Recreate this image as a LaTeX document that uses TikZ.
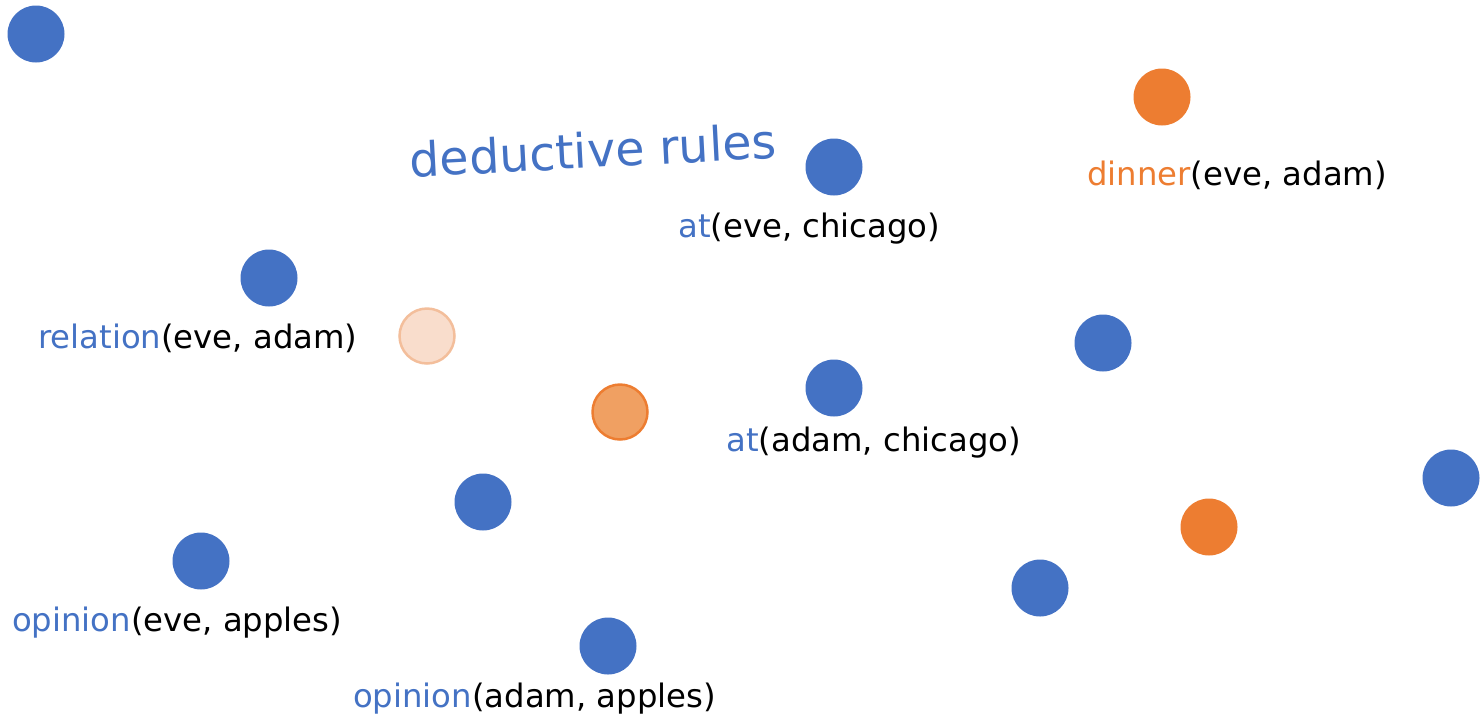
\documentclass[tikz,border=0pt]{standalone}
\usepackage{fontspec}
\setmainfont{DejaVu Sans}
\definecolor{pblue}{HTML}{4472C4}
\definecolor{porange}{HTML}{ED7D31}
\definecolor{pfade}{HTML}{F9DDCC}
\definecolor{pfadeedge}{HTML}{F3BE9B}
\definecolor{pmid}{HTML}{F0A062}
\tikzset{
  dot/.style={circle, minimum size=57pt, inner sep=0pt},
  bdot/.style={dot, fill=pblue},
  odot/.style={dot, fill=porange},
  fadedot/.style={dot, fill=pfade, draw=pfadeedge, line width=2.5pt, minimum size=55pt},
  middot/.style={dot, fill=pmid, draw=porange, line width=2.5pt, minimum size=55pt},
  fact/.style={anchor=west, inner sep=0pt, font=\fontsize{32.3}{38}\selectfont, text=black},
}
\begin{document}
\begin{tikzpicture}[x=1pt, y=-1pt]
\useasboundingbox (0,0) rectangle (1480,721);
% scattered atoms
\node[bdot] (n1) at (36,34) {};
\node[odot] (n2) at (1162,97) {};
\node[bdot] (n3) at (834,167) {};
\node[bdot] (n4) at (269,278) {};
\node[fadedot] (n5) at (427,336) {};
\node[middot] (n6) at (620,412) {};
\node[bdot] (n7) at (834,388) {};
\node[bdot] (n8) at (1103,343) {};
\node[bdot] (n9) at (1451,478) {};
\node[odot] (n10) at (1209,527) {};
\node[bdot] (n11) at (483,502) {};
\node[bdot] (n12) at (201,561) {};
\node[bdot] (n13) at (1040,588) {};
\node[bdot] (n14) at (608,646) {};
% title
\node[text=pblue, font=\fontsize{47.5}{56}\selectfont, rotate=3] (title) at (593,150) {deductive rules};
% fact labels
\node[fact] (l1) at (1087,175) {\textcolor{porange}{dinner}(eve, adam)};
\node[fact] (l2) at (678,229) {\textcolor{pblue}{at}(eve, chicago)};
\node[fact] (l3) at (38,338) {\textcolor{pblue}{relation}(eve, adam)};
\node[fact] (l4) at (726,443) {\textcolor{pblue}{at}(adam, chicago)};
\node[fact] (l5) at (12,623) {\textcolor{pblue}{opinion}(eve, apples)};
\node[fact] (l6) at (353,699) {\textcolor{pblue}{opinion}(adam, apples)};
\end{tikzpicture}
\end{document}
